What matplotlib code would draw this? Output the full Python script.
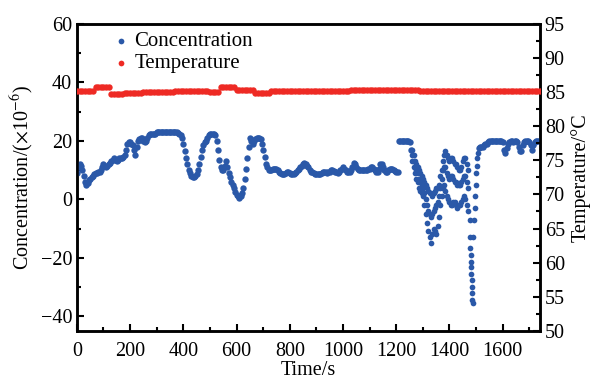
import numpy as np
import matplotlib
matplotlib.use('Agg')
import matplotlib.pyplot as plt
from matplotlib.ticker import MultipleLocator

plt.rcParams['font.family'] = ['Liberation Serif', 'DejaVu Serif']
plt.rcParams['mathtext.fontset'] = 'stix'

# concentration (x10^-6) read every 5 s, 0 s .. 1255 s
conc_a = [9, 11, 12, 11.5, 10, 8, 6, 5, 5.5, 6.5,
          7, 7.5, 8, 8.5, 9, 9, 9.5, 9.5, 10, 11,
          12, 11.5, 11, 11.5, 12, 12.5, 13, 13.5, 14, 13.5,
          13, 13.5, 14, 14, 14, 14.5, 15, 17, 19, 19.5,
          19.5, 19, 18.5, 17, 15, 18, 20, 20.5, 21, 21,
          20, 19.5, 20, 21, 22, 22.5, 22.5, 22.5, 22.5, 22.5,
          23, 23, 23, 23, 23, 23, 23, 23, 23, 23,
          23, 23, 23, 23, 23, 23, 22.8, 22.5, 22, 21,
          19, 16.5, 14, 12, 10, 9, 8, 7.5, 7.5, 8,
          8.5, 10, 12, 14.5, 17, 18.5, 19.5, 20, 21, 22,
          22.5, 22.5, 22.5, 22.5, 22, 20, 17, 13.5, 11, 10,
          10, 11.5, 13, 11, 9, 7.5, 6, 5, 4, 2.5,
          1.5, 1, 0.5, 1, 2, 4, 7, 10.5, 14, 18,
          21, 20, 19, 20, 20.5, 21, 21, 21, 20.5, 19,
          17, 14.5, 12, 11, 10, 10, 10, 10.5, 10.5, 10.5,
          10.5, 10, 9.5, 9, 8.5, 8.5, 8.5, 9, 9.5, 9.2,
          9, 8.7, 8.5, 8.7, 9, 9.5, 10, 10.5, 11, 11.5,
          12, 12.3, 12, 11.5, 11, 10, 9.5, 9.2, 9, 8.7,
          8.5, 8.5, 8.5, 8.7, 9, 9.2, 9.5, 9.2, 9, 9.2,
          9.5, 10, 10, 9.8, 9.5, 9.2, 9, 9.5, 10, 10.5,
          11, 10.5, 10, 9.5, 9.5, 9.5, 10, 11, 12.5, 12,
          11, 10.5, 10, 10, 10, 10, 10, 10, 10, 10.2,
          10.5, 11, 11, 10.5, 10, 9.5, 9.5, 10.5, 12, 12,
          11, 10, 9.5, 9.5, 10, 10.5, 10.5, 10.5, 10, 9.8,
          9.5, 9.5, 20, 20, 20, 20, 20, 20, 20, 20,
          19.5, 17]

# concentration read every 5 s, 1510 s .. 1740 s
conc_b = [17.5, 17.8, 18, 18, 18.5, 18.8, 19, 19.5, 19.8, 20,
          20, 20, 20, 20, 20, 20, 20, 20, 19.5, 17,
          16, 17.5, 19, 19.5, 20, 19.8, 19.5, 19.8, 20, 19.5,
          18, 16.5, 16.5, 18.5, 19.5, 20, 20, 19.8, 19.5, 18.5,
          17, 18.5, 19.5, 20, 20, 20, 20]

# noisy stretch 1260-1470 s: upper, middle and lower readings every 5 s
burst_hi = [17, 15, 13, 12, 11, 10, 9, 8, 7, 6,
            5, 4, 3, 2, 2, 1, 2, 3, 4, 4,
            5, 8, 10, 13, 15, 16.5, 15, 14, 13, 14,
            14, 13, 12, 12, 11, 10, 10, 11, 13, 14, 14, 12, 10]
burst_mid = [15, 13, 11, 10, 9, 7, 6, 5, 4, 2,
             0, -2, -4, -5, -6, -5, -4, -3, -2, -1,
             1, 4, 7, 10, 11, 11, 9, 8, 7, 8,
             8, 7, 6, 6, 5, 5, 5, 6, 7, 8, 8, 6, 4]
burst_lo = [13, 11, 9, 7, 6, 4, 3, 2, 1, -2,
            -5, -8, -11, -13, -15, -12, -10, -11, -12, -9,
            -6, -2, 1, 4, 5, 3, 1, 0, -1, -2,
            -2, -1, -1, -2, -3, -2, -2, -1, 0, 1, 0, -2, -4]

# deep dip around 1480 s
dip_t = [1476, 1477, 1478, 1479, 1480, 1481, 1482, 1483, 1484, 1485, 1486, 1487,
         1490, 1492, 1494, 1496, 1498, 1500, 1502, 1504, 1506]
dip_c = [-7, -13, -16.5, -19, -21.5, -23, -25.5, -27.5, -30, -32, -34.5, -35.5,
         -13, -7, -3, 1, 5, 9, 11.5, 14, 16]

# temperature (deg C), every 10 s from 0 s
temp = [85.2, 85.2, 85.2, 85.2, 85.2, 85.2, 85.2, 85.7, 85.7, 85.7,
        85.7, 85.7, 85.7, 84.7, 84.7, 84.7, 84.7, 84.7, 84.9, 84.9,
        84.9, 84.9, 84.9, 84.9, 84.9, 85.05, 85.05, 85.05, 85.05, 85.05,
        85.05, 85.05, 85.05, 85.05, 85.05, 85.05, 85.05, 85.2, 85.2, 85.2,
        85.2, 85.2, 85.2, 85.2, 85.2, 85.2, 85.2, 85.2, 85.2, 85.2,
        85.0, 85.0, 85.0, 85.0, 85.7, 85.7, 85.7, 85.7, 85.7, 85.7,
        85.3, 85.3, 85.3, 85.3, 85.3, 85.3, 85.3, 84.9, 84.9, 84.9,
        84.9, 84.9, 84.9, 85.15, 85.15, 85.15, 85.15, 85.15, 85.15, 85.15,
        85.15, 85.15, 85.15, 85.15, 85.15, 85.15, 85.15, 85.15, 85.15, 85.15,
        85.15, 85.15, 85.15, 85.15, 85.15, 85.15, 85.15, 85.15, 85.15, 85.15,
        85.15, 85.15, 85.15, 85.25, 85.25, 85.25, 85.25, 85.25, 85.25, 85.25,
        85.25, 85.25, 85.25, 85.25, 85.25, 85.25, 85.25, 85.25, 85.25, 85.25,
        85.25, 85.25, 85.25, 85.25, 85.25, 85.25, 85.25, 85.25, 85.25, 85.1,
        85.1, 85.1, 85.1, 85.1, 85.1, 85.1, 85.1, 85.1, 85.1, 85.1,
        85.1, 85.1, 85.1, 85.1, 85.1, 85.1, 85.1, 85.1, 85.1, 85.1,
        85.1, 85.1, 85.1, 85.1, 85.1, 85.1, 85.1, 85.1, 85.1, 85.1,
        85.1, 85.1, 85.1, 85.1, 85.1, 85.1, 85.1, 85.1, 85.1, 85.1,
        85.1, 85.1, 85.1, 85.1, 85.1]

time_a = 5 * np.arange(len(conc_a))
time_b = 1510 + 5 * np.arange(len(conc_b))
burst_t = 1260 + 5 * np.arange(len(burst_hi))
temp_t = 10 * np.arange(len(temp))

blue = '#2a58a8'
red = '#ee2a24'
ms = 21

fig = plt.figure(figsize=(5.96, 3.79), dpi=100)
ax = fig.add_axes([0.129, 0.127, 0.777, 0.81])
ax2 = ax.twinx()

ax.scatter(time_a, conc_a, s=ms, color=blue, lw=0, label='Concentration', zorder=3)
ax.scatter(time_b, conc_b, s=ms, color=blue, lw=0, zorder=3)
for arr in (burst_hi, burst_mid, burst_lo):
    ax.scatter(burst_t, arr, s=ms * 0.8, color=blue, lw=0, zorder=3)
ax.scatter(dip_t, dip_c, s=ms * 0.8, color=blue, lw=0, zorder=3)

ax2.scatter(temp_t, temp, s=ms, color=red, lw=0, label='Temperature', zorder=3)

ax.set_xlim(0, 1740)
ax.set_ylim(-45, 60)
ax2.set_ylim(50, 95)

ax.xaxis.set_major_locator(MultipleLocator(200))
ax.xaxis.set_minor_locator(MultipleLocator(100))
ax.yaxis.set_major_locator(MultipleLocator(20))
ax.yaxis.set_minor_locator(MultipleLocator(10))
ax2.yaxis.set_major_locator(MultipleLocator(5))
ax2.yaxis.set_minor_locator(MultipleLocator(2.5))

fs = 14.5
for a in (ax, ax2):
    a.tick_params(which='major', direction='in', length=5, width=1.5, labelsize=fs)
    a.tick_params(which='minor', direction='in', length=3, width=1.5)
    for sp in a.spines.values():
        sp.set_linewidth(1.8)
ax.tick_params(axis='x', pad=8)

ax.set_xlabel('Time/s', fontsize=fs, labelpad=0)
ax.set_ylabel('Concentration/($\\times$10$^{-6}$)', fontsize=fs, labelpad=3)
ax2.set_ylabel('Temperature/°C', fontsize=fs, labelpad=4)

h1, l1 = ax.get_legend_handles_labels()
h2, l2 = ax2.get_legend_handles_labels()
ax.legend(h1 + h2, l1 + l2, loc='upper left', bbox_to_anchor=(0.025, 1.035),
          frameon=False, fontsize=15, handletextpad=0.0, labelspacing=0.1,
          markerscale=0.9, handlelength=1.3)

fig.savefig('out.png', dpi=100)
